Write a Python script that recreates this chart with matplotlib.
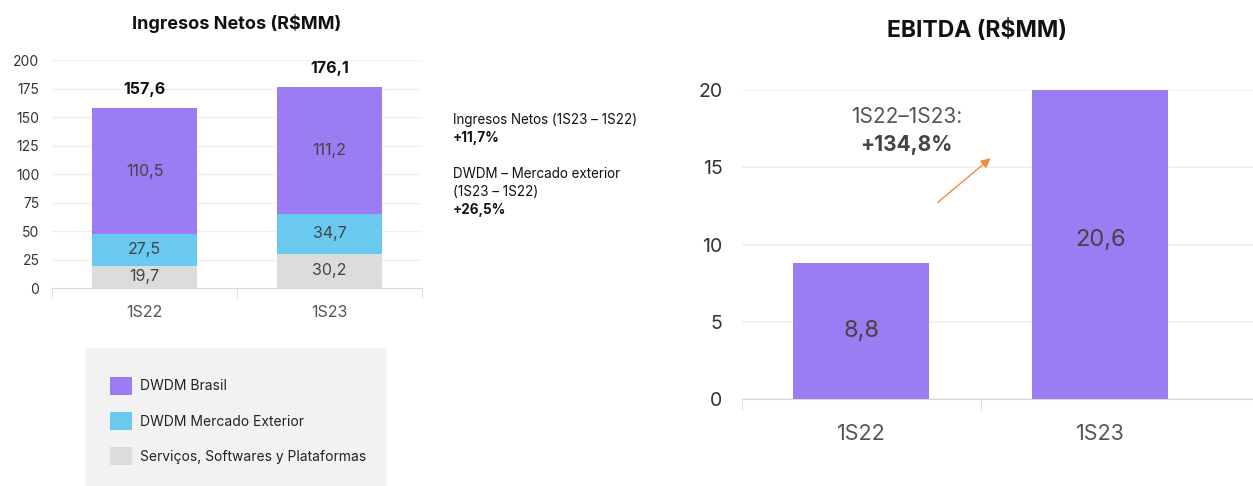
import matplotlib
matplotlib.use("Agg")
import matplotlib.pyplot as plt
from matplotlib.patches import Rectangle, Patch

plt.rcParams["font.family"] = ["Inter", "DejaVu Sans"]

# Ingresos Netos data
periodos = ["1S22", "1S23"]
servicos = [19.7, 30.2]
mercado_exterior = [27.5, 34.7]
dwdm_brasil = [110.5, 111.2]
totales = [157.6, 176.1]

# EBITDA data
ebitda = [8.8, 20.6]
ebitda_ylim = 20
variacion_ebitda = "+134,8%"

series_names = ["DWDM Brasil", "DWDM Mercado Exterior", "Serviços, Softwares y Plataformas"]
c_purple = "#9b7cf2"
c_cyan = "#6ac9ee"
c_gray = "#dcdcdc"
grid_c = "#f0f0f0"
txt_c = "#444444"


def fmt(v):
    return "{:.1f}".format(v).replace(".", ",")


fig = plt.figure(figsize=(12.53, 4.86), dpi=100)

# ---- left chart: Ingresos Netos ----
ax1 = fig.add_axes([0.0415, 0.4074, 0.2953, 0.4691])
x = range(len(periodos))
w = 0.57
b1 = ax1.bar(x, servicos, w, color=c_gray, zorder=2)
b2 = ax1.bar(x, mercado_exterior, w, bottom=servicos, color=c_cyan, zorder=2)
base2 = [a + b for a, b in zip(servicos, mercado_exterior)]
b3 = ax1.bar(x, dwdm_brasil, w, bottom=base2, color=c_purple, zorder=2)

for bars in (b1, b2, b3):
    ax1.bar_label(bars, labels=[fmt(v) for v in bars.datavalues], label_type="center",
                  color=txt_c, fontsize=11.5)
for i, t in enumerate(totales):
    ax1.annotate(fmt(t), (i, t), xytext=(0, 8), textcoords="offset points",
                 ha="center", va="bottom", fontsize=11.5, fontweight="bold", color="#111111")

ax1.set_ylim(0, 200)
ax1.set_xlim(-0.5, 1.5)
ax1.set_yticks(range(0, 201, 25))
ax1.set_xticks(list(x))
ax1.set_xticklabels(periodos)
ax1.set_xticks([-0.5, 0.5, 1.5], minor=True)
ax1.tick_params(axis="x", which="major", length=0, labelsize=11.5, labelcolor="#555555", pad=12)
ax1.tick_params(axis="x", which="minor", length=7, color="#d9d9d9", direction="out")
ax1.tick_params(axis="y", length=0, labelsize=10, labelcolor="#333333", pad=9)
ax1.yaxis.grid(True, color=grid_c, linewidth=1, zorder=0)
for s in ("top", "right", "left"):
    ax1.spines[s].set_visible(False)
ax1.spines["bottom"].set_color("#d9d9d9")
ax1.set_title("Ingresos Netos (R$MM)", fontsize=13, fontweight="bold", pad=22, color="#111111")

# side notes
notes_fs = 9.7
fig.text(0.3615, 0.753, "Ingresos Netos (1S23 – 1S22)", fontsize=notes_fs, color="#111111", va="center")
fig.text(0.3615, 0.716, "+11,7%", fontsize=notes_fs, fontweight="bold", color="#111111", va="center")
fig.text(0.3615, 0.642, "DWDM – Mercado exterior", fontsize=notes_fs, color="#111111", va="center")
fig.text(0.3615, 0.605, "(1S23 – 1S22)", fontsize=notes_fs, color="#111111", va="center")
fig.text(0.3615, 0.568, "+26,5%", fontsize=notes_fs, fontweight="bold", color="#111111", va="center")

# legend box
fig.patches.append(Rectangle((0.068, 0.0), 0.241, 0.284, transform=fig.transFigure,
                             facecolor="#f2f2f2", edgecolor="none", zorder=0))
handles = [Patch(facecolor=c, edgecolor="none") for c in (c_purple, c_cyan, c_gray)]
fig.legend(handles, series_names, loc="upper left", bbox_to_anchor=(0.083, 0.236),
           frameon=False, fontsize=10, handlelength=1.6, handleheight=1.6,
           labelspacing=1.25, handletextpad=0.6, borderaxespad=0, labelcolor="#222222")

# ---- right chart: EBITDA ----
ax2 = fig.add_axes([0.5922, 0.179, 0.4078, 0.6358])
w2 = 0.57
b4 = ax2.bar(range(len(periodos)), ebitda, w2, color=c_purple, zorder=2)
for i, v in enumerate(ebitda):
    ax2.text(i, v / 2, fmt(v), ha="center", va="center", fontsize=17, color=txt_c)
ax2.set_ylim(0, ebitda_ylim)
ax2.set_xlim(-0.5, 1.64)
ax2.set_yticks(range(0, 21, 5))
ax2.set_xticks(range(len(periodos)))
ax2.set_xticklabels(periodos)
ax2.set_xticks([-0.5, 0.5], minor=True)
ax2.tick_params(axis="x", which="major", length=0, labelsize=15.5, labelcolor="#555555", pad=18)
ax2.tick_params(axis="x", which="minor", length=8, color="#d9d9d9", direction="out")
ax2.tick_params(axis="y", length=0, labelsize=14, labelcolor="#333333", pad=14)
ax2.yaxis.grid(True, color=grid_c, linewidth=1.2, zorder=0)
for s in ("top", "right", "left"):
    ax2.spines[s].set_visible(False)
ax2.spines["bottom"].set_color("#d9d9d9")
ax2.set_title("EBITDA (R$MM)", fontsize=16.5, fontweight="bold", pad=38, color="#111111",
              x=0.46)

ax2.text(0.19, 18.25, "1S22–1S23:", ha="center", va="center", fontsize=15, color="#555555")
ax2.text(0.19, 16.45, variacion_ebitda, ha="center", va="center", fontsize=15,
         fontweight="bold", color="#444444")
ax2.annotate("", xy=(0.55, 15.7), xytext=(0.31, 12.6),
             arrowprops=dict(arrowstyle="-|>", color="#f08a3c", lw=1, mutation_scale=14))

fig.savefig("out.png", dpi=100)
